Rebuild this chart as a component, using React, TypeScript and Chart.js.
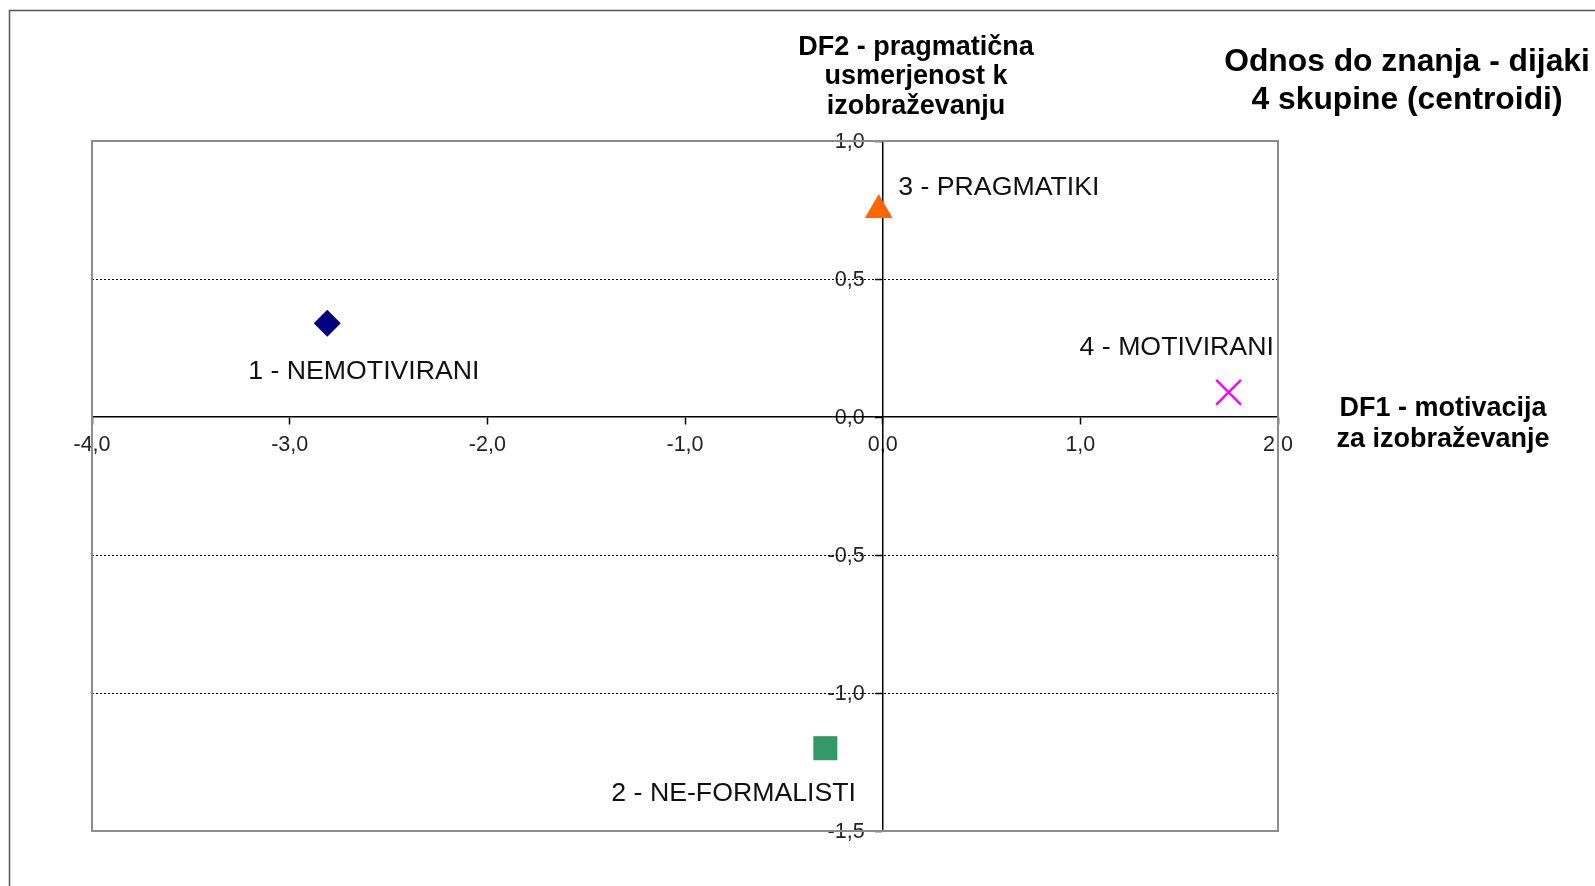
import React, { useEffect, useRef } from "react";
import { Chart, registerables } from "chart.js";

Chart.register(...registerables);

// ---- data ----
const groupNames = ["1 - NEMOTIVIRANI", "2 - NE-FORMALISTI", "3 - PRAGMATIKI", "4 - MOTIVIRANI"];
const df1Values = [-2.81, -0.29, -0.02, 1.75];
const df2Values = [0.34, -1.2, 0.75, 0.09];
const xTicks = [-4, -3, -2, -1, 0, 1, 2];
const yTicks = [-1.5, -1.0, -0.5, 0, 0.5, 1.0];
const chartTitle = ["Odnos do znanja - dijaki", "4 skupine (centroidi)"];
const xAxisTitle = ["DF1 - motivacija", "za izobraževanje"];
const yAxisTitle = ["DF2 - pragmatična", "usmerjenost k", "izobraževanju"];

// ---- styles ----
const pointColors = ["#000080", "#339966", "#FF6600", "#FF00FF"];
const pointStyles = ["rectRot", "rect", "triangle", "crossRot"];
const pointRadii = [13.5, 17, 16, 17.5];
const pointBorderWidths = [0, 0, 0, 2.5];
const labelOffsets = [
  [-79, 48.5],
  [-214, 45],
  [19.5, -22],
  [-149, -44.5],
];
const FONT = "'Liberation Sans', Arial, sans-serif";

const fmt = (v: number) => v.toFixed(1).replace(".", ",");

const decorPlugin = {
  id: "decor",
  beforeDraw(chart: any) {
    const ctx = chart.ctx;
    // shift y-axis tick labels away from the centred axis line
    const ys = chart.scales.y;
    if (ys && ys.getLabelItems) {
      const items = ys.getLabelItems();
      if (!ys.$shifted) {
        items.forEach((it: any) => {
          it.options.translation[0] -= 18;
          it.options.translation[1] += 1.5;
        });
        ys.$shifted = true;
      }
    }
    ctx.save();
    ctx.fillStyle = "#ffffff";
    ctx.fillRect(0, 0, chart.width, chart.height);
    // outer frame (left + top)
    ctx.strokeStyle = "#555555";
    ctx.lineWidth = 1.5;
    ctx.beginPath();
    ctx.moveTo(9.5, chart.height + 5);
    ctx.lineTo(9.5, 10.5);
    ctx.lineTo(chart.width + 5, 10.5);
    ctx.stroke();
    ctx.restore();
  },
  afterDraw(chart: any) {
    const ctx = chart.ctx;
    const a = chart.chartArea;
    ctx.save();
    // plot frame
    ctx.strokeStyle = "#8c8c8c";
    ctx.lineWidth = 2;
    ctx.strokeRect(a.left, a.top, a.right - a.left, a.bottom - a.top);

    // data labels
    const xs = chart.scales.x;
    const ys = chart.scales.y;
    ctx.fillStyle = "#111111";
    ctx.font = `26.7px ${FONT}`;
    ctx.textAlign = "left";
    ctx.textBaseline = "middle";
    groupNames.forEach((name, i) => {
      const px = xs.getPixelForValue(df1Values[i]);
      const py = ys.getPixelForValue(df2Values[i]);
      ctx.fillText(name, px + labelOffsets[i][0], py + labelOffsets[i][1]);
    });

    // titles
    ctx.textAlign = "center";
    ctx.fillStyle = "#000000";
    ctx.font = `bold 31.8px ${FONT}`;
    chartTitle.forEach((t, i) => ctx.fillText(t, 1407, 62 + i * 38.6));
    ctx.font = `bold 27px ${FONT}`;
    yAxisTitle.forEach((t, i) => ctx.fillText(t, 916, 47.5 + i * 29.5));
    xAxisTitle.forEach((t, i) => ctx.fillText(t, 1443, 409 + i * 30.5));
    ctx.restore();
  },
};

export default function App() {
  const ref = useRef<HTMLCanvasElement | null>(null);

  useEffect(() => {
    if (!ref.current) return;
    const chart = new Chart(ref.current, {
      type: "scatter",
      data: {
        datasets: [
          {
            data: df1Values.map((x, i) => ({ x, y: df2Values[i] })),
            pointStyle: pointStyles as any,
            pointRadius: pointRadii,
            pointBackgroundColor: pointColors,
            pointBorderColor: pointColors,
            pointBorderWidth: pointBorderWidths,
            showLine: false,
            clip: false,
          } as any,
        ],
      },
      options: {
        responsive: false,
        animation: false,
        events: [],
        layout: { padding: { left: 92, top: 141, right: 317, bottom: 55 } },
        plugins: {
          legend: { display: false },
          tooltip: { enabled: false },
          title: { display: false },
        },
        scales: {
          x: {
            type: "linear",
            min: -4,
            max: 2,
            position: { y: 0 } as any,
            afterBuildTicks: (s: any) => {
              s.ticks = xTicks.map((v) => ({ value: v }));
            },
            ticks: {
              autoSkip: false,
              maxRotation: 0,
              padding: 8,
              color: "#222222",
              font: { family: FONT, size: 21.5 },
              callback: (v: any) => fmt(Number(v)),
              z: -2,
            } as any,
            grid: {
              drawOnChartArea: false,
              drawTicks: true,
              tickLength: 7,
              tickColor: "#000000",
              tickWidth: 1.5,
            },
            border: { display: true, color: "#000000", width: 1.5 },
          },
          y: {
            type: "linear",
            min: -1.5,
            max: 1,
            position: { x: 0 } as any,
            afterBuildTicks: (s: any) => {
              s.ticks = yTicks.map((v) => ({ value: v }));
            },
            ticks: {
              autoSkip: false,
              padding: 12,
              color: "#222222",
              font: { family: FONT, size: 21.5 },
              callback: (v: any) => fmt(Number(v)),
              z: -2,
            } as any,
            grid: {
              drawOnChartArea: true,
              drawTicks: true,
              tickLength: 7,
              tickColor: "#000000",
              tickWidth: 1.5,
              lineWidth: 1,
              color: (c: any) => {
                const v = c.tick ? c.tick.value : null;
                if (v === null || v === 0 || v === 1 || v === -1.5) return "rgba(0,0,0,0)";
                return "#000000";
              },
            },
            border: {
              display: true,
              color: "#000000",
              width: 1.5,
              dash: (c: any) => (c.tick ? [2, 2] : []),
            } as any,
          },
        },
      },
      plugins: [decorPlugin],
    });
    return () => chart.destroy();
  }, []);

  return (
    <canvas
      ref={ref}
      width={1595}
      height={886}
      style={{ position: "absolute", left: 0, top: 0, width: 1595, height: 886 }}
    />
  );
}
